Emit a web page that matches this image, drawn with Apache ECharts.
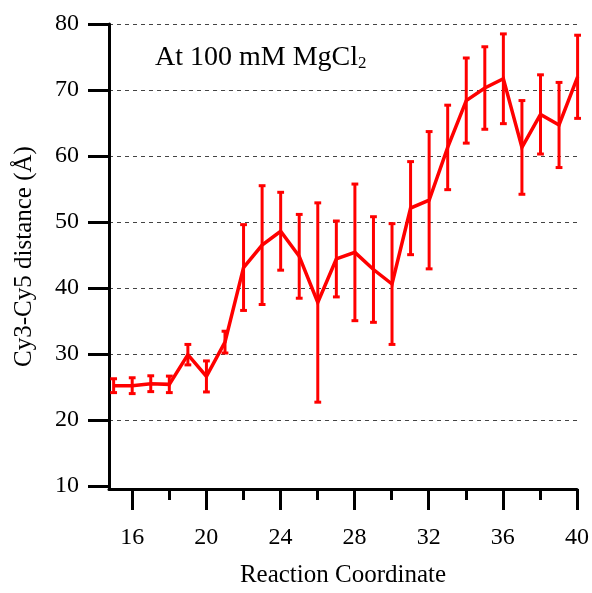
<!DOCTYPE html>
<html><head><meta charset="utf-8">
<script src="https://cdn.jsdelivr.net/npm/echarts@6/dist/echarts.min.js"></script>
<style>html,body{margin:0;padding:0;background:#fff}#c{width:592px;height:593px}</style>
</head><body><div id="c"></div>
<script>
// ---- data ----
const coords    = [15,16,17,18,19,20,21,22,23,24,25,26,27,28,29,30,31,32,33,34,35,36,37,38,39,40];
const distances = [25.2,25.2,25.5,25.4,29.9,26.6,31.8,43.1,46.5,48.6,44.8,37.8,44.4,45.4,42.8,40.6,52.1,53.3,61.3,68.4,70.3,71.7,61.3,66.3,64.7,72.0];
const errors    = [1.05,1.2,1.2,1.25,1.55,2.35,1.65,6.5,9.0,5.9,6.35,15.1,5.75,10.35,8.0,9.15,7.05,10.4,6.4,6.45,6.25,6.8,7.1,6.0,6.45,6.3];
const xMajorTicks = [16,20,24,28,32,36,40];
const xMinorTicks = [18,22,26,30,34,38];
const yMin = 10, yMax = 80, yStep = 10;
const xMin = 14.75, xMax = 40;
const titleMain = 'At 100 mM MgCl';
const titleSub = '2';
const xName = 'Reaction Coordinate';
const yName = 'Cy3-Cy5 distance (Å)';

const FONT = "'Liberation Serif','Times New Roman',serif";
const RED = '#ff0000';

const lineData = coords.map((x, i) => [x, distances[i]]);
const errData = coords.map((x, i) => [x, distances[i] - errors[i], distances[i] + errors[i]]);

const chart = echarts.init(document.getElementById('c'), null, {renderer: 'canvas'});
const gridBox = {left: 109, right: 14.4, top: 24};
chart.setOption({
  animation: false,
  backgroundColor: '#fff',
  grid: [
    Object.assign({bottom: 107}, gridBox),
    Object.assign({bottom: 102}, gridBox)
  ],
  xAxis: [
    {gridIndex: 0, type: 'value', min: xMin, max: xMax, show: false},
    {gridIndex: 1, type: 'value', min: xMin, max: xMax, position: 'bottom',
      axisLine: {show: true, onZero: false, lineStyle: {color: '#000', width: 3}},
      axisTick: {show: true, inside: false, length: 21, customValues: xMajorTicks, lineStyle: {color: '#000', width: 3}},
      axisLabel: {show: true, customValues: xMajorTicks, margin: 37, color: '#000', fontFamily: FONT, fontSize: 24},
      splitLine: {show: false},
      name: xName, nameLocation: 'middle', nameGap: 74,
      nameTextStyle: {color: '#000', fontFamily: FONT, fontSize: 25}
    },
    {gridIndex: 1, type: 'value', min: xMin, max: xMax, position: 'bottom',
      axisLine: {show: false},
      axisTick: {show: true, inside: false, length: 11, customValues: xMinorTicks, lineStyle: {color: '#000', width: 3}},
      axisLabel: {show: false},
      splitLine: {show: false}
    }
  ],
  yAxis: [
    {gridIndex: 0, type: 'value', min: yMin, max: yMax, interval: yStep,
      axisLine: {show: false},
      axisTick: {show: true, inside: false, length: 21, lineStyle: {color: '#000', width: 3}},
      axisLabel: {show: true, margin: 30, color: '#000', fontFamily: FONT, fontSize: 24},
      splitLine: {show: true, showMinLine: false, showMaxLine: true, lineStyle: {color: '#444', width: 1, type: [4, 4]}}
    },
    {gridIndex: 1, type: 'value', min: yMin, max: yMax,
      axisLine: {show: true, onZero: false, lineStyle: {color: '#000', width: 3}},
      axisTick: {show: false}, axisLabel: {show: false}, splitLine: {show: false},
      name: yName, nameLocation: 'middle', nameGap: 72, nameRotate: 90,
      nameTextStyle: {color: '#000', fontFamily: FONT, fontSize: 25}
    }
  ],
  graphic: [{
    type: 'text', left: 155, top: 44, z: 10,
    style: {
      text: '{a|' + titleMain + '}{s|' + titleSub + '}',
      rich: {
        a: {fontFamily: FONT, fontSize: 28, lineHeight: 30, fill: '#000', verticalAlign: 'bottom'},
        s: {fontFamily: FONT, fontSize: 17, lineHeight: 10, fill: '#000', verticalAlign: 'bottom'}
      }
    }
  }],
  series: [
    {
      type: 'custom', xAxisIndex: 0, yAxisIndex: 0, data: errData, z: 3,
      renderItem: function (params, api) {
        const x = api.value(0), lo = api.value(1), hi = api.value(2);
        const t = api.coord([x, hi]), b = api.coord([x, lo]);
        const hw = 3.4;
        const st = {stroke: RED, lineWidth: 3};
        return {type: 'group', children: [
          {type: 'line', shape: {x1: t[0], y1: t[1], x2: b[0], y2: b[1]}, style: st},
          {type: 'line', shape: {x1: t[0] - hw, y1: t[1], x2: t[0] + hw, y2: t[1]}, style: st},
          {type: 'line', shape: {x1: b[0] - hw, y1: b[1], x2: b[0] + hw, y2: b[1]}, style: st}
        ]};
      }
    },
    {
      type: 'line', xAxisIndex: 0, yAxisIndex: 0, data: lineData, z: 4,
      showSymbol: false, symbol: 'none',
      lineStyle: {color: RED, width: 3.5, join: 'miter'}
    }
  ]
});
</script>
</body></html>
